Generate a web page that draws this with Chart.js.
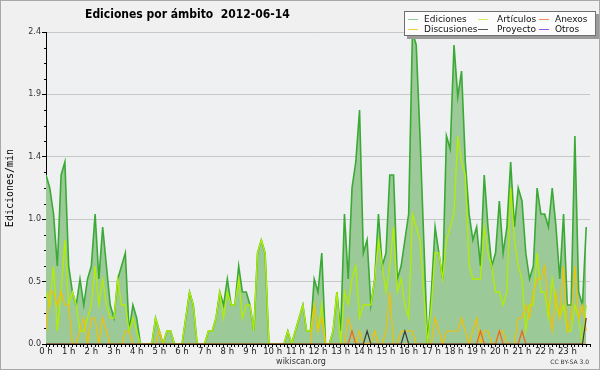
<!DOCTYPE html>
<html>
<head>
<meta charset="utf-8">
<script src="https://cdn.jsdelivr.net/npm/chart.js@4.4.0/dist/chart.umd.min.js"></script>
<style>
  html, body { margin: 0; padding: 0; background: #f0f0f0; }
  canvas { display: block; }
</style>
</head>
<body>
<canvas id="chart" width="600" height="370"></canvas>
<script>
// one value every 10 minutes (edits per minute), 144 per day
const hourLabels = ['0 h','1 h','2 h','3 h','4 h','5 h','6 h','7 h','8 h','9 h','10 h','11 h',
  '12 h','13 h','14 h','15 h','16 h','17 h','18 h','19 h','20 h','21 h','22 h','23 h'];

const ediciones = [
  1.3,1.2,1.0,0.6,1.3,1.4,0.6,0.4,0.3,0.5,
  0.3,0.5,0.6,1.0,0.5,0.9,0.6,0.3,0.2,0.5,
  0.6,0.7,0.1,0.3,0.2,0,0,0,0,0.2,
  0.1,0,0.1,0.1,0,0,0,0.2,0.4,0.3,
  0,0,0,0.1,0.1,0.2,0.4,0.3,0.5,0.3,
  0.3,0.6,0.4,0.4,0.3,0.1,0.7,0.8,0.7,0,
  0,0,0,0,0.1,0,0.1,0.2,0.3,0.1,
  0.1,0.5,0.4,0.7,0,0,0.1,0.4,0.1,1.0,
  0.5,1.2,1.4,1.8,0.7,0.8,0.3,0.5,1.0,0.6,
  0.7,1.3,1.3,0.5,0.6,0.8,1.0,2.4,2.3,1.6,
  0.8,0,0.4,0.9,0.7,0.5,1.6,1.5,2.3,1.9,
  2.1,1.4,1.0,0.8,0.9,0.6,1.3,0.9,0.6,0.7,
  1.1,0.7,0.9,1.4,0.9,1.2,1.1,0.7,0.5,0.6,
  1.2,1.0,1.0,0.9,1.2,0.9,0.5,1.0,0.3,0.3,
  1.6,0.4,0.3,0.9
];
const articulos = [
  0.4,0.3,0.6,0.1,0.4,0.8,0.3,0.4,0.3,0.1,
  0.1,0.2,0.3,0.6,0.3,0.5,0.3,0.2,0.2,0.5,
  0.3,0.3,0.1,0.2,0.1,0,0,0,0,0.2,
  0.1,0,0.1,0.1,0,0,0,0.2,0.4,0.3,
  0,0,0,0.1,0.1,0.2,0.4,0.2,0.4,0.3,
  0.3,0.5,0.2,0.3,0.3,0.1,0.7,0.8,0.7,0,
  0,0,0,0,0.1,0,0.1,0.2,0.3,0.1,
  0.1,0.3,0.1,0.3,0,0,0.1,0.4,0,0.4,
  0.3,0.5,0.6,0.2,0.3,0.3,0.3,0.5,0.8,0.6,
  0.4,0.6,0.9,0.4,0.5,0.3,0.2,1.0,0.9,0.8,
  0.4,0,0.3,0.7,0.7,0.5,0.8,0.9,1.0,1.6,
  1.4,1.3,0.6,0.5,0.5,0.5,0.9,0.7,0.6,0.4,
  0.4,0.3,0.4,1.2,0.8,0.6,0.5,0.1,0.3,0.3,
  0.7,0.4,0.4,0.2,0.5,0.3,0.2,0.3,0.1,0.1,
  0.3,0.2,0,0.3
];
const discusiones = [
  0.1,0.4,0.4,0.3,0.4,0.3,0.3,0,0,0.1,
  0.2,0,0.2,0.2,0,0.2,0.1,0,0,0,
  0,0.1,0.1,0,0,0,0,0,0,0,
  0.1,0,0,0,0,0,0,0,0,0,
  0,0,0,0,0,0,0,0,0,0,
  0,0,0,0,0,0,0,0,0,0,
  0,0,0,0,0,0,0,0,0,0,
  0,0.3,0.1,0.2,0,0,0,0,0,0,
  0.2,0.1,0,0.1,0,0,0,0.1,0,0,
  0.1,0.4,0,0,0.1,0.1,0.1,0.1,0,0,
  0,0,0,0.2,0.1,0,0.1,0.1,0.1,0.1,
  0.2,0.1,0,0.1,0.2,0,0.1,0.1,0,0,
  0.1,0.1,0,0,0,0.2,0.2,0.3,0.2,0.4,
  0.5,0.5,0.6,0.3,0.1,0.4,0.2,0.6,0.1,0.2,
  0.6,0.2,0.3,0.1
];
const anexos = [
  0,0,0,0,0,0,0,0,0,0, 0,0,0,0,0,0,0,0,0,0, 0,0,0,0,0,0,0,0,0,0,
  0,0,0,0,0,0,0,0,0,0, 0,0,0,0,0,0,0,0,0,0, 0,0,0,0,0,0,0,0,0,0,
  0,0,0,0,0,0,0,0,0,0, 0,0,0,0,0,0,0,0,0,0, 0,0.1,0,0,0,0,0,0,0,0,
  0,0,0,0,0,0,0,0,0,0, 0,0,0,0,0,0,0,0,0,0, 0,0,0,0,0,0.1,0,0,0,0,
  0.1,0,0,0,0,0,0.1,0,0,0, 0,0,0,0,0,0,0,0,0,0, 0,0,0,0
];
const proyecto = [
  0,0,0,0,0,0,0,0,0,0, 0,0,0,0,0,0,0,0,0,0, 0,0,0,0,0,0,0,0,0,0,
  0,0,0,0,0,0,0,0,0,0, 0,0,0,0,0,0,0,0,0,0, 0,0,0,0,0,0,0,0,0,0,
  0,0,0,0,0,0,0,0,0,0, 0,0,0,0,0,0,0,0,0,0, 0,0,0,0,0,0.1,0,0,0,0,
  0,0,0,0,0,0.1,0,0,0,0, 0,0,0,0,0,0,0,0,0,0, 0,0,0,0,0,0,0,0,0,0,
  0,0,0,0,0,0,0,0,0,0, 0,0,0,0,0,0,0,0,0,0, 0,0,0,0.2
];
const otros = [];

const toPoints = arr => arr.map((v, i) => ({ x: i, y: v }));

// legend slots: [column, row]
const legendSlots = [[0, 0], [1, 0], [0, 1], [2, 0], [1, 1], [2, 1]];

const decor = {
  id: 'decor',
  beforeDraw(chart) {
    const { ctx, chartArea: a } = chart;
    ctx.save();
    ctx.fillStyle = '#f0f0f0';
    ctx.fillRect(0, 0, 600, 370);
    ctx.fillStyle = '#eef0f2';
    ctx.fillRect(a.left, a.top, a.right - a.left, a.bottom - a.top);
    ctx.strokeStyle = '#a8a8a8';
    ctx.lineWidth = 1;
    ctx.strokeRect(0.5, 0.5, 599, 369);
    ctx.restore();
  },
  afterDraw(chart) {
    const { ctx, chartArea: a } = chart;
    const y = chart.scales.y;
    ctx.save();

    // minor ticks on the value axis
    ctx.strokeStyle = '#000';
    ctx.lineWidth = 1;
    for (let k = 1; k < 20; k++) {
      if (k % 4 === 0) continue;
      const py = Math.round(y.getPixelForValue(k * 0.12)) + 0.5;
      ctx.beginPath();
      ctx.moveTo(a.left - 2, py);
      ctx.lineTo(a.left, py);
      ctx.stroke();
    }

    // title
    ctx.fillStyle = '#000';
    ctx.font = 'bold 12px "DejaVu Sans Condensed", "DejaVu Sans"';
    ctx.textBaseline = 'alphabetic';
    ctx.textAlign = 'left';
    ctx.fillText('Ediciones por ámbito  2012-06-14', 85, 18);

    // legend box
    ctx.fillStyle = '#9a9a9a';
    ctx.fillRect(407, 14, 192, 25);
    ctx.fillStyle = '#fcfcfc';
    ctx.fillRect(404, 11, 192, 25);
    ctx.strokeStyle = '#707070';
    ctx.strokeRect(404.5, 11.5, 191, 24);

    const swatchX = [408, 478, 539];
    const textX = [424, 497, 555];
    const rowY = [19, 29];
    ctx.font = '9px "DejaVu Sans"';
    ctx.textBaseline = 'middle';
    chart.data.datasets.forEach((ds, i) => {
      const [c, r] = legendSlots[i];
      ctx.strokeStyle = ds.legendColor;
      ctx.beginPath();
      ctx.moveTo(swatchX[c], rowY[r] + 0.5);
      ctx.lineTo(swatchX[c] + 10, rowY[r] + 0.5);
      ctx.stroke();
      ctx.fillStyle = '#111';
      ctx.fillText(ds.label, textX[c], rowY[r] + 1);
    });

    // footer
    ctx.textBaseline = 'alphabetic';
    ctx.fillStyle = '#333';
    ctx.font = '8px "DejaVu Sans"';
    ctx.textAlign = 'center';
    ctx.fillText('wikiscan.org', 301, 364);
    ctx.font = '6px "DejaVu Sans"';
    ctx.textAlign = 'right';
    ctx.fillText('CC BY-SA 3.0', 589, 364);
    ctx.restore();
  }
};

new Chart(document.getElementById('chart'), {
  type: 'line',
  data: {
    datasets: [
      { label: 'Ediciones', data: toPoints(ediciones), order: 6, fill: 'origin',
        borderColor: '#3aaa35', backgroundColor: 'rgb(156,201,152)', borderWidth: 1.6, legendColor: '#8fd08a' },
      { label: 'Artículos', data: toPoints(articulos), order: 5,
        borderColor: '#b2ee00', borderWidth: 1.3, legendColor: '#cdf05a' },
      { label: 'Discusiones', data: toPoints(discusiones), order: 4,
        borderColor: '#f2c100', borderWidth: 1.2, legendColor: '#f6cf3a' },
      { label: 'Anexos', data: toPoints(anexos), order: 3,
        borderColor: '#f0641e', borderWidth: 1.2, legendColor: '#f08a55' },
      { label: 'Proyecto', data: toPoints(proyecto), order: 2,
        borderColor: '#3c3c3c', borderWidth: 1.2, legendColor: '#555555' },
      { label: 'Otros', data: toPoints(otros), order: 1,
        borderColor: '#9146f0', borderWidth: 1.2, legendColor: '#9a55f0' }
    ]
  },
  options: {
    responsive: false,
    animation: false,
    devicePixelRatio: 1,
    layout: { padding: { top: 32, right: 10, bottom: 0, left: 0 } },
    elements: { point: { radius: 0 }, line: { tension: 0 } },
    plugins: { legend: { display: false }, tooltip: { enabled: false }, title: { display: false } },
    scales: {
      x: {
        type: 'linear', min: 0, max: 144, z: 1,
        afterFit: s => { s.height = 26; },
        border: { color: '#000', width: 1 },
        grid: { drawOnChartArea: false, drawTicks: true, tickLength: 3, tickColor: '#000' },
        ticks: {
          stepSize: 1, autoSkip: false, maxRotation: 0, minRotation: 0, maxTicksLimit: 1000,
          padding: 0, color: '#222', font: { family: 'DejaVu Sans', size: 8.5 },
          callback: v => (v % 6 === 0 && v < 144) ? hourLabels[v / 6] : ''
        }
      },
      y: {
        min: 0, max: 2.4,
        afterFit: s => { s.width = 46; },
        border: { color: '#000', width: 1 },
        grid: { color: c => c.index === 0 ? 'rgba(0,0,0,0)' : '#c8c8c8', tickColor: '#000', tickLength: 4 },
        ticks: {
          stepSize: 0.48, padding: 1, color: '#333', font: { family: 'DejaVu Sans', size: 8 },
          callback: v => v.toFixed(1)
        },
        title: {
          display: true, text: 'Ediciones/min', color: '#000',
          font: { family: 'DejaVu Sans Mono', size: 10 }, padding: { top: 4, bottom: 0 }
        }
      }
    }
  },
  plugins: [decor]
});
</script>
</body>
</html>
